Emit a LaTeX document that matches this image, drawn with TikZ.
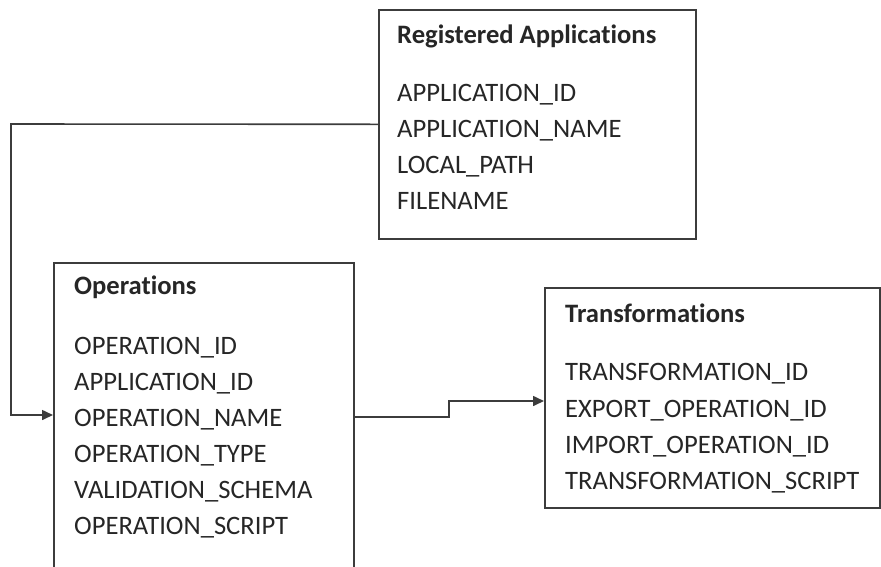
\documentclass[tikz,border=0pt]{standalone}
\usepackage{fontspec}
\setmainfont{Carlito}[Ligatures=NoCommon]
\usepackage{xcolor}
\usepackage{tikz}
\usetikzlibrary{arrows.meta, positioning}

\definecolor{linegray}{HTML}{3C3C3C}
\definecolor{textgray}{HTML}{262626}

\tikzset{
	tbl/.style={draw=linegray, line width=1.6pt, rectangle, anchor=north west, inner sep=0pt},
	field/.style={anchor=base west, inner sep=0pt, text=textgray, font=\fontsize{26.6}{30}\selectfont},
	title/.style={field, font=\fontsize{26.6}{30}\selectfont\bfseries},
	link/.style={draw=linegray, line width=1.6pt},
}

\begin{document}
\begin{tikzpicture}[x=1pt, y=-1pt]
			\useasboundingbox (0, 0) rectangle (881, 566);
			\clip (0, 0) rectangle (881, 566);
			% Tables:
			\node[tbl, minimum width=317pt, minimum height=229pt](regapp) at (378, 9){};
			\node[tbl, minimum width=300pt, minimum height=340pt](ops) at (53, 262){};
			\node[tbl, minimum width=335pt, minimum height=220pt](trans) at (544, 287){};
			% Fields:
			\node[title](regtitle) at (397, 43){Registered Applications};
			\node[field](appid) at (397, 101){APPLICATION\_ID};
			\node[field](appname) at (397, 137){APPLICATION\_NAME};
			\node[field](localpath) at (397, 173){LOCAL\_PATH};
			\node[field](filename) at (397, 209){FILENAME};
			\node[title](opstitle) at (74, 294){Operations};
			\node[field](opid) at (74, 354){OPERATION\_ID};
			\node[field](opappid) at (74, 390){APPLICATION\_ID};
			\node[field](opname) at (74, 426){OPERATION\_NAME};
			\node[field](optype) at (74, 462){OPERATION\_TYPE};
			\node[field](opschema) at (74, 498){VALIDATION\_SCHEMA};
			\node[field](opscript) at (74, 534){OPERATION\_SCRIPT};
			\node[title](transtitle) at (565, 322){Transformations};
			\node[field](transid) at (565, 380){TRANSFORMATION\_ID};
			\node[field](exportid) at (565, 417){EXPORT\_OPERATION\_ID};
			\node[field](importid) at (565, 453){IMPORT\_OPERATION\_ID};
			\node[field](transscript) at (565, 489){TRANSFORMATION\_SCRIPT};
			% Links:
			\coordinate (bendA) at (11, 124);
			\coordinate (opsin) at (53, 415);
			\coordinate (opsout) at (353, 417);
			\coordinate (stepB) at (449, 417);
			\coordinate (transin) at (544, 401);
			\draw[link, -{Triangle[length=11pt, width=10pt]}] (regapp.west) -- (bendA) |- (opsin);
			\draw[link, -{Triangle[length=11pt, width=10pt]}] (opsout) -- (stepB) |- (transin);
		\end{tikzpicture}
\end{document}
